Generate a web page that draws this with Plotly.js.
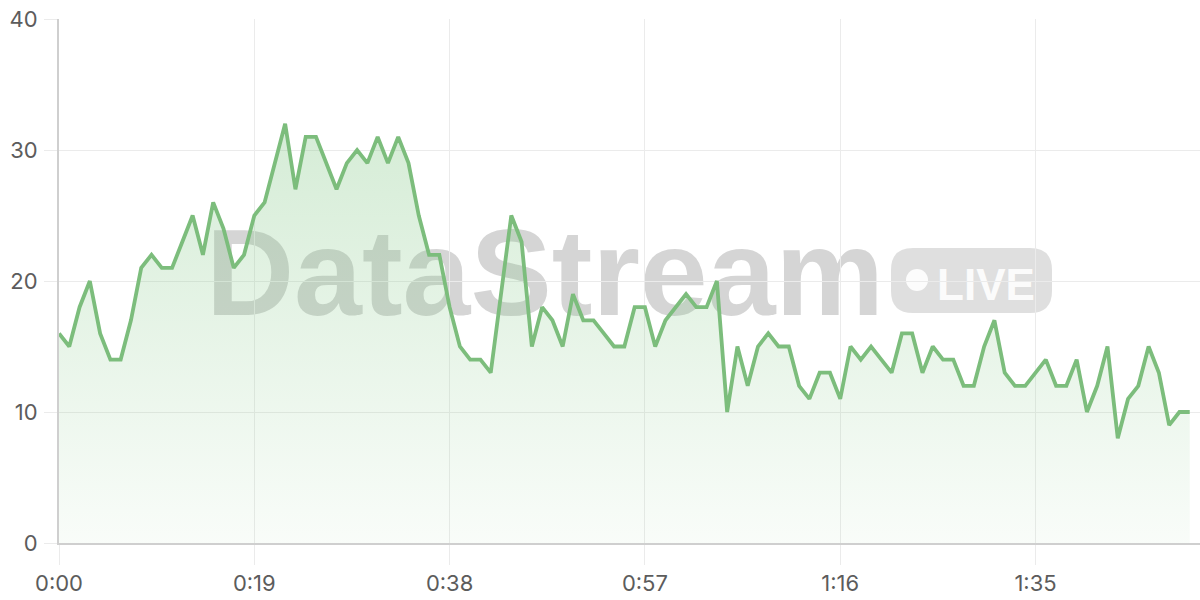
<!DOCTYPE html>
<html>
<head>
<meta charset="utf-8">
<script src="https://cdn.plot.ly/plotly-3.0.1.min.js"></script>
<style>html,body{margin:0;padding:0;background:#fff;}#chart{width:1200px;height:600px;}</style>
</head>
<body>
<div id="chart"></div>
<script>
// elapsed seconds
const seconds = Array.from({length: 111}, (_, i) => i);
const values = [
  16,15,18,20,16,14,14,17,21,22,
  21,21,23,25,22,26,24,21,22,25,
  26,29,32,27,31,31,29,27,29,30,
  29,31,29,31,29,25,22,22,18,15,
  14,14,13,19,25,23,15,18,17,15,
  19,17,17,16,15,15,18,18,15,17,
  18,19,18,18,20,10,15,12,15,16,
  15,15,12,11,13,13,11,15,14,15,
  14,13,16,16,13,15,14,14,12,12,
  15,17,13,12,12,13,14,12,12,14,
  10,12,15,8,11,12,15,13,9,10,10
];
const xTickVals = [0,19,38,57,76,95];
const xTickLabels = ["0:00","0:19","0:38","0:57","1:16","1:35"];
const yTickVals = [0,10,20,30,40];
const watermarkText = "DataStream";
const badgeText = "LIVE";

const trace = {
  x: seconds, y: values, type: 'scatter', mode: 'lines',
  line: {color: '#7cbd7c', width: 3.8},
  fill: 'tozeroy',
  fillgradient: {type: 'vertical', start: 0, stop: 34,
    colorscale: [[0, 'rgba(129,199,132,0.05)'], [1, 'rgba(129,199,132,0.35)']]},
  hoverinfo: 'skip'
};

const W = 1141, H = 524;
function px(x){ return (x - 59) / W; }
function py(y){ return (543 - y) / H; }

const shapes = [
  { type: 'rect', xref: 'paper', yref: 'paper', layer: 'below',
    x0: px(195), x1: px(895), y0: py(310), y1: py(212),
    line: {width: 0}, fillcolor: 'rgba(0,0,0,0)',
    label: {text: watermarkText, textposition: 'middle center',
      font: {family: 'Liberation Sans, Arial, sans-serif', size: 122, color: 'rgba(110,110,110,0.29)', weight: 'bold'}}
  },
  { type: 'path', xref: 'paper', yref: 'paper', layer: 'below',
    xsizemode: 'pixel', ysizemode: 'pixel', xanchor: px(971.5), yanchor: py(280.5),
    path: 'M -58.5 32.5 L 58.5 32.5 Q 80.5 32.5 80.5 10.5 L 80.5 -10.5 Q 80.5 -32.5 58.5 -32.5 L -58.5 -32.5 Q -80.5 -32.5 -80.5 -10.5 L -80.5 10.5 Q -80.5 32.5 -58.5 32.5 Z',
    line: {width: 0}, fillcolor: 'rgba(110,110,110,0.22)'
  },
  { type: 'circle', xref: 'paper', yref: 'paper', layer: 'below',
    xsizemode: 'pixel', ysizemode: 'pixel', xanchor: px(917), yanchor: py(280),
    x0: -11, x1: 11, y0: -11, y1: 11,
    line: {width: 0}, fillcolor: 'rgba(255,255,255,0.9)'
  },
  { type: 'rect', xref: 'paper', yref: 'paper', layer: 'below',
    x0: px(930), x1: px(1042), y0: py(305), y1: py(255),
    line: {width: 0}, fillcolor: 'rgba(0,0,0,0)',
    label: {text: badgeText, textposition: 'middle center',
      font: {family: 'Liberation Sans, Arial, sans-serif', size: 44, color: 'rgba(255,255,255,0.9)', weight: 'bold'}}
  }
];

const layout = {
  width: 1200, height: 600,
  margin: {l: 59, r: 0, t: 19, b: 57},
  paper_bgcolor: '#ffffff', plot_bgcolor: '#ffffff',
  showlegend: false,
  font: {family: 'Inter, Roboto, sans-serif', color: '#5c5c5c', size: 22},
  xaxis: {
    range: [0, 111], tickvals: xTickVals, ticktext: xTickLabels,
    showgrid: true, gridcolor: '#ebebeb', gridwidth: 1,
    ticks: 'outside', ticklen: 20, tickcolor: '#ebebeb', tickwidth: 1,
    showline: true, linecolor: '#cfcfcf', linewidth: 2,
    zeroline: false, tickfont: {size: 22, color: '#5c5c5c'}, fixedrange: true
  },
  yaxis: {
    range: [0, 40], tickvals: yTickVals,
    showgrid: true, gridcolor: '#ebebeb', gridwidth: 1,
    ticks: 'outside', ticklen: 13, tickcolor: '#ebebeb', tickwidth: 1,
    showline: true, linecolor: '#cfcfcf', linewidth: 2,
    zeroline: false, tickfont: {size: 22, color: '#5c5c5c'}, fixedrange: true,
    ticklabelstandoff: 2
  },
  shapes: shapes
};

Plotly.newPlot('chart', [trace], layout, {displayModeBar: false, staticPlot: true});
</script>
</body>
</html>
